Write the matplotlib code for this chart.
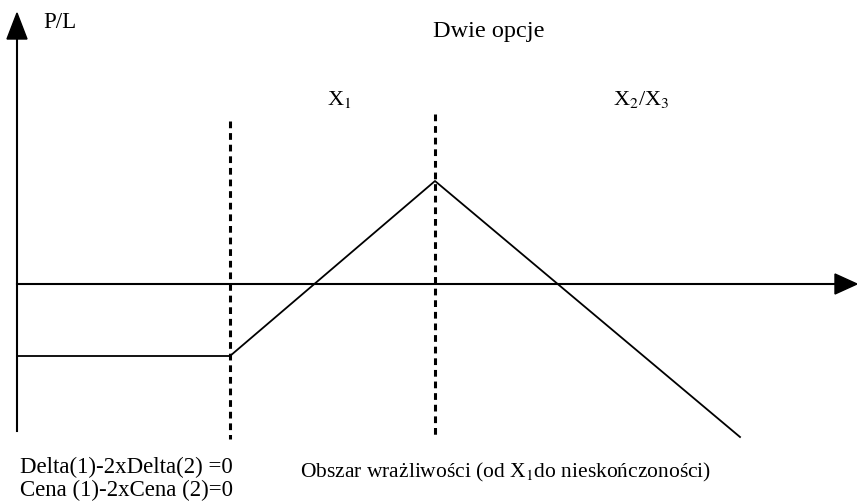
import matplotlib.pyplot as plt

# payoff profile (diagram units: pixels, y grows downward)
pl_x = [17, 230, 435, 740]
pl_y = [357, 357, 182, 438]

# dashed strike markers
strike_x = [230, 435]
strike_top = [122, 115]
strike_bot = [440, 437]

axis_y = 285

plt.rcParams['font.family'] = ['Liberation Serif', 'DejaVu Serif']
plt.rcParams['mathtext.fontset'] = 'stix'

fig = plt.figure(figsize=(8.57, 5.02), dpi=100)
ax = fig.add_axes([0, 0, 1, 1])
ax.set_xlim(0, 857)
ax.set_ylim(502, 0)
ax.axis('off')

# axes with arrows
ax.plot([17, 17], [432, 38], color='black', lw=1.5)
ax.fill([7, 27, 17], [40, 40, 14], color='black')
ax.plot([17, 838], [axis_y, axis_y], color='black', lw=1.5)
ax.fill([835, 835, 857], [275, 295, 285], color='black')

# payoff line
ax.plot(pl_x, pl_y, color='black', lw=1.3)

# strike lines
for x, t, b in zip(strike_x, strike_top, strike_bot):
    ax.plot([x, x], [t, b], color='black', lw=2.2, ls=(0, (2.2, 1.6)))

ax.text(43, 22, 'P/L', fontsize=16.5, va='center')
ax.text(489, 31, 'Dwie opcje', fontsize=17.5, va='center', ha='center')
ax.text(327, 100, 'X$_1$', fontsize=16, va='center')
ax.text(613, 100, 'X$_2$/X$_3$', fontsize=16, va='center')
ax.text(20, 467, 'Delta(1)-2xDelta(2) =0', fontsize=16.5, va='center')
ax.text(20, 490, 'Cena (1)-2xCena (2)=0', fontsize=16.5, va='center')
ax.text(300, 472, 'Obszar wrażliwości (od X$_1$do nieskończoności)', fontsize=15.5, va='center')

fig.savefig('out.png', dpi=100)
